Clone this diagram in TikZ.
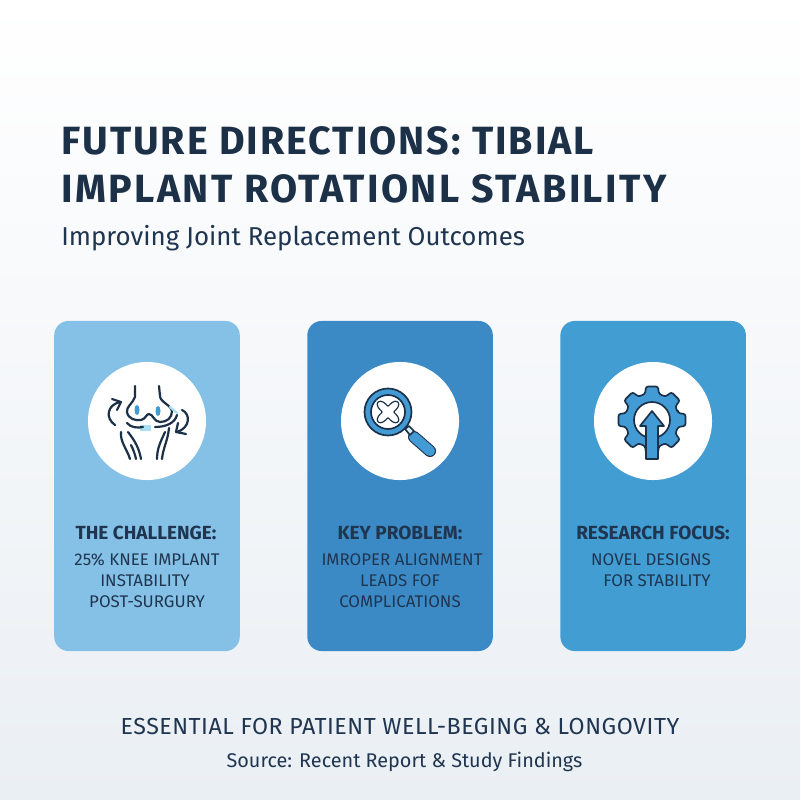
\documentclass[tikz,border=0pt]{standalone}
\usepackage{xcolor}
\usepackage{fontspec}
\usepackage{tikz}
\usetikzlibrary{positioning,arrows.meta}
\setmainfont{Fira Sans}
\newfontfamily\titlefont[LetterSpace=5]{Fira Sans}
\newfontfamily\titlewide[LetterSpace=6]{Fira Sans}
\newfontfamily\footfont[LetterSpace=2.2]{Fira Sans}
\definecolor{inkdark}{HTML}{1C3148}
\definecolor{inktext}{HTML}{1F3550}
\definecolor{paleback}{HTML}{EAEFF4}
\definecolor{skycard}{HTML}{85C1E6}
\definecolor{deepcard}{HTML}{3B8AC6}
\definecolor{midcard}{HTML}{429DD3}
\definecolor{iconblue}{HTML}{439BD6}
\definecolor{iconpale}{HTML}{A9E0F2}
\tikzset{
  card/.style={rectangle, rounded corners=0.36cm, minimum width=4.6375cm, minimum height=8.25cm, inner sep=0pt, outer sep=0pt},
  disc/.style={circle, fill=white, minimum size=2.95cm, inner sep=0pt},
  headline/.style={anchor=base west, font=\titlefont\fontsize{28}{28}\selectfont\bfseries, text=inkdark, inner sep=0pt},
  cardhead/.style={anchor=base, font=\fontsize{13.5}{13.5}\selectfont\bfseries, text=inktext, inner sep=0pt},
  cardline/.style={anchor=base, font=\fontsize{12}{12}\selectfont, text=inktext, inner sep=0pt},
  kneeline/.style={draw=inkdark, line width=0.55mm, line cap=round, line join=round},
  iconline/.style={draw=inkdark, line width=0.42mm, line join=round},
}
\begin{document}
\begin{tikzpicture}[x=0.025cm, y=-0.025cm, node distance=1.6875cm]
  % Background
  \shade [top color=white, bottom color=paleback] (0,0) rectangle (800,800);
  \useasboundingbox (0,0) rectangle (800,800);

  % Title
  \node [headline] (title1) at (61,155) {FUTURE DIRECTIONS: TIBIAL};
  \node [headline, font=\titlewide\fontsize{28}{28}\selectfont\bfseries] (title2) at (61,203) {IMPLANT ROTATIONL STABILITY};
  \node [anchor=base west, inner sep=0pt, text=inktext, font=\fontsize{18.4}{18.4}\selectfont] (subtitle) at (61,245) {Improving Joint Replacement Outcomes};

  % Cards
  \node [card, fill=skycard] (card1) at (147,486) {};
  \node [card, fill=deepcard, right=of card1] (card2) {};
  \node [card, fill=midcard, right=of card2] (card3) {};

  % Discs
  \node [disc] (disc1) at (147,421) {};
  \node [disc] (disc2) at (400,421) {};
  \node [disc] (disc3) at (653,421) {};

  % Knee icon
  \fill [iconblue] (137,410) ellipse (2.5 and 5);
  \fill [iconblue] (158,411) ellipse (2.5 and 5);
  \fill [iconpale] (140,425) rectangle (151,431);
  \draw [kneeline] (135,386) -- (135,397) .. controls (133,403) and (126,407) .. (127,412)
    .. controls (128,419) and (136,421) .. (141,420) .. controls (146,419) and (146,414) .. (149,414)
    .. controls (153,414) and (154,422) .. (160,422) .. controls (167,422) and (172,418) .. (172,411)
    .. controls (171,405) and (160,402) .. (160,396) -- (159,386);
  \draw [kneeline] (127,423) .. controls (131,428) and (138,428) .. (143,427);
  \draw [kneeline] (155,427) .. controls (166,427) and (175,423) .. (177,415);
  \draw [kneeline, iconpale] (170,407) -- (177,413);
  \draw [kneeline] (121,432) .. controls (120,442) and (127,449) .. (130,459);
  \draw [kneeline] (128,432) .. controls (135,441) and (139,448) .. (141,459);
  \draw [kneeline] (131,445) .. controls (133,449) and (135,454) .. (136,459);
  \draw [kneeline] (169,428) .. controls (168,440) and (163,448) .. (162,459);
  \draw [kneeline] (165,432) .. controls (161,441) and (157,448) .. (157,459);
  \draw [kneeline] (115,425) .. controls (105,418) and (107,405) .. (120,402);
  \draw [kneeline] (112,399) -- (121,402) -- (117,410);
  \draw [kneeline] (182,410) .. controls (191,414) and (190,428) .. (177,432);
  \draw [kneeline] (178,423) -- (176,432) -- (186,434);

  % Magnifier icon
  \draw [draw=inkdark, line width=0.3cm, line cap=round] (414,437) -- (430,451);
  \draw [draw=iconblue, line width=0.25cm, line cap=round] (414,437) -- (430,451);
  \draw [iconline, fill=iconpale!50!white] (405,429) -- (409,426) -- (414,431) -- (410,435) -- cycle;
  \draw [iconline, fill=iconblue] (388,412) circle (23.5);
  \draw [iconline, fill=white] (388,412) circle (17);
  \draw [iconline, line width=0.3mm, fill=white, smooth cycle] plot [domain=0:355, samples=72] ({388+(10-4*cos(4*\x))*cos(\x)}, {412+(10-4*cos(4*\x))*sin(\x)}) -- cycle;

  % Gear icon
  \begin{scope}[shift={(652,420)}]
    \draw [iconline, fill=iconblue, rounded corners=1.5pt] (-15:27)
      \foreach \a in {0,45,...,315} { -- (\a-15:27) -- (\a-10:34) -- (\a+10:34) -- (\a+15:27) } -- cycle;
    \draw [iconline, fill=white] (0,0) circle (18);
    \draw [iconline, fill=iconblue] (-6,39) -- (-6,6) -- (-12,6) -- (0,-9) -- (12,6) -- (6,6) -- (6,39) -- cycle;
  \end{scope}

  % Card texts
  \node [cardhead] (head1) at (146,539) {THE CHALLENGE:};
  \node [cardline] (line1a) at (147,565) {25\% KNEE IMPLANT};
  \node [cardline] (line1b) at (145,586) {INSTABILITY};
  \node [cardline] (line1c) at (147,607) {POST-SURGURY};
  \node [cardhead] (head2) at (400,539) {KEY PROBLEM:};
  \node [cardline] (line2a) at (402,565) {IMROPER ALIGNMENT};
  \node [cardline] (line2b) at (400,586) {LEADS FOF};
  \node [cardline] (line2c) at (400,607) {COMPLICATIONS};
  \node [cardhead] (head3) at (653,539) {RESEARCH FOCUS:};
  \node [cardline] (line3a) at (651,565) {NOVEL DESIGNS};
  \node [cardline] (line3b) at (657,586) {FOR STABILITY};

  % Footer
  \node [anchor=base, inner sep=0pt, text=inktext, font=\footfont\fontsize{16.5}{16.5}\selectfont] (footer) at (400,734) {ESSENTIAL FOR PATIENT WELL-BEGING \& LONGOVITY};
  \node [anchor=base, inner sep=0pt, text=inktext, font=\fontsize{14.1}{14.1}\selectfont] (source) at (404.5,767) {Source: Recent Report \& Study Findings};
\end{tikzpicture}
\end{document}
